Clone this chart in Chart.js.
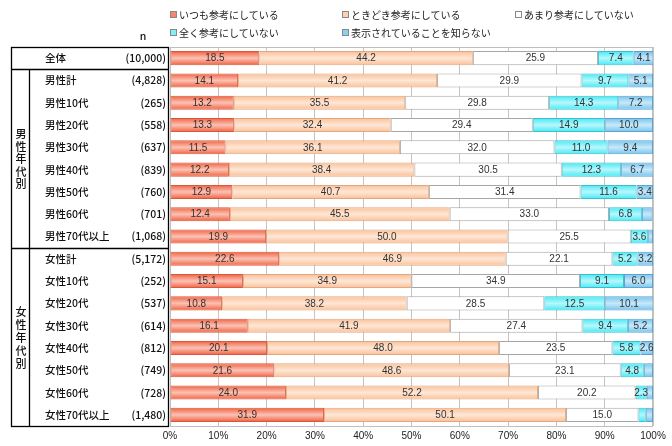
<!DOCTYPE html>
<html lang="ja">
<head>
<meta charset="utf-8">
<script src="https://cdn.jsdelivr.net/npm/chart.js@4.4.1/dist/chart.umd.min.js"></script>
<style>
    html, body { margin: 0; padding: 0; background: #fff; }
    #wrap { position: relative; width: 672px; height: 446px; }
    .legend { position: absolute; font-family: "Noto Sans CJK JP", sans-serif; font-size: 10px; color: #222; white-space: nowrap; line-height: 12px; }
    .legend i { display: inline-block; width: 5px; height: 5px; border: 1px solid #888; margin-right: 2px; vertical-align: 1px; }
</style>
</head>
<body>
<div id="wrap">
    <canvas id="chart"></canvas>
    <div class="legend" style="left:170px;top:9px"><i style="background:#f4876c"></i>いつも参考にしている</div>
    <div class="legend" style="left:342px;top:9px"><i style="background:#fcd2b2"></i>ときどき参考にしている</div>
    <div class="legend" style="left:515px;top:9px"><i style="background:#ffffff"></i>あまり参考にしていない</div>
    <div class="legend" style="left:170px;top:27px"><i style="background:#7ef0f8"></i>全く参考にしていない</div>
    <div class="legend" style="left:342px;top:27px"><i style="background:#8fd0f2"></i>表示されていることを知らない</div>
</div>
<script>
const categories = ['全体', '男性計', '男性10代', '男性20代', '男性30代', '男性40代', '男性50代', '男性60代', '男性70代以上',
    '女性計', '女性10代', '女性20代', '女性30代', '女性40代', '女性50代', '女性60代', '女性70代以上'];
const nLabels = ['(10,000)', '(4,828)', '(265)', '(558)', '(637)', '(839)', '(760)', '(701)', '(1,068)',
    '(5,172)', '(252)', '(537)', '(614)', '(812)', '(749)', '(728)', '(1,480)'];
const seriesNames = ['いつも参考にしている', 'ときどき参考にしている', 'あまり参考にしていない', '全く参考にしていない', '表示されていることを知らない'];
const always    = [18.5, 14.1, 13.2, 13.3, 11.5, 12.2, 12.9, 12.4, 19.9, 22.6, 15.1, 10.8, 16.1, 20.1, 21.6, 24.0, 31.9];
const sometimes = [44.2, 41.2, 35.5, 32.4, 36.1, 38.4, 40.7, 45.5, 50.0, 46.9, 34.9, 38.2, 41.9, 48.0, 48.6, 52.2, 50.1];
const rarely    = [25.9, 29.9, 29.8, 29.4, 32.0, 30.5, 31.4, 33.0, 25.5, 22.1, 34.9, 28.5, 27.4, 23.5, 23.1, 20.2, 15.0];
const never     = [7.4, 9.7, 14.3, 14.9, 11.0, 12.3, 11.6, 6.8, 3.6, 5.2, 9.1, 12.5, 9.4, 5.8, 4.8, 2.3, 1.5];
const unaware   = [4.1, 5.1, 7.2, 10.0, 9.4, 6.7, 3.4, 2.2, 1.0, 3.2, 6.0, 10.1, 5.2, 2.6, 1.9, 1.3, 1.5];
const xTicks = [0, 10, 20, 30, 40, 50, 60, 70, 80, 90, 100];
const groups = [{ label: '男性年代別', from: 1, to: 8, step: 12.5 }, { label: '女性年代別', from: 9, to: 16, step: 13 }];

const fills = ['#f2603e', '#fbc096', '#ffffff', '#44eaf6', '#72c4ee'];
const edges = ['#d9583c', '#e3a77f', '#a6a6a6', '#3bbfcc', '#5aa2d0'];
const JP = '"Noto Sans CJK JP", sans-serif';

// gloss stripe over each bar + value labels
const barDecor = {
    id: 'barDecor',
    afterDatasetsDraw(chart) {
        const c = chart.ctx;
        c.save();
        chart.data.datasets.forEach((ds, di) => {
            const meta = chart.getDatasetMeta(di);
            meta.data.forEach((el, i) => {
                const p = el.getProps(['x', 'y', 'base', 'height'], true);
                const left = Math.min(p.x, p.base), w = Math.abs(p.x - p.base);
                const top = p.y - p.height / 2;
                if (di !== 2) {
                    const g = c.createLinearGradient(0, top, 0, top + p.height);
                    g.addColorStop(0, 'rgba(255,255,255,0)');
                    g.addColorStop(0.5, 'rgba(255,255,255,0.62)');
                    g.addColorStop(1, 'rgba(255,255,255,0)');
                    c.fillStyle = g;
                    c.fillRect(left + 1, top + 1, w - 2, p.height - 2);
                }
                const v = ds.data[i];
                if (v >= 2.25) {
                    c.fillStyle = '#333';
                    c.font = '10px "Liberation Sans", sans-serif';
                    c.textAlign = 'center';
                    c.textBaseline = 'middle';
                    c.fillText(v.toFixed(1), left + w / 2, p.y + 0.5);
                }
            });
        });
        c.restore();
    }
};

// plot frame and left-hand table
const sideTable = {
    id: 'sideTable',
    beforeDatasetsDraw(chart) {
        const { ctx: c, chartArea: a } = chart;
        c.save();
        c.strokeStyle = '#bfbfbf';
        c.lineWidth = 1;
        c.strokeRect(a.left + 0.5, a.top + 0.5, a.right - a.left - 1, a.bottom - a.top);
        c.restore();
    },
    afterDraw(chart) {
        const { ctx: c, chartArea: a } = chart;
        const y = chart.scales.y;
        const bound = i => Math.round((y.getPixelForValue(i) + y.getPixelForValue(i + 1)) / 2) + 0.5;
        const L = 11.5, R = a.left - 1.5, D = 29.5, T = Math.round(a.top) + 0.5, B = Math.round(a.bottom) + 0.5;
        c.save();
        c.strokeStyle = '#000';
        c.lineWidth = 1.3;
        c.strokeRect(L, T, R - L, B - T);
        c.beginPath();
        c.moveTo(L, bound(0)); c.lineTo(R, bound(0));
        c.moveTo(L, bound(8)); c.lineTo(R, bound(8));
        c.moveTo(D, bound(0)); c.lineTo(D, B);
        c.stroke();

        c.fillStyle = '#111';
        c.textBaseline = 'middle';
        c.font = '500 10.5px ' + JP;
        categories.forEach((name, i) => {
            const py = y.getPixelForValue(i);
            c.textAlign = 'left';
            c.fillText(name, 45, py);
            c.textAlign = 'right';
            c.fillText(nLabels[i], 166, py);
        });
        c.textAlign = 'center';
        c.fillText('n', 143, 36);
        c.font = '500 11px ' + JP;
        groups.forEach(g => {
            const mid = (bound(g.from - 1) + bound(g.to)) / 2;
            const chars = g.label.split('');
            chars.forEach((ch, k) => c.fillText(ch, 21, mid + (k - (chars.length - 1) / 2) * g.step));
        });
        c.restore();
    }
};

new Chart(document.getElementById('chart'), {
    type: 'bar',
    data: {
        labels: categories,
        datasets: [always, sometimes, rarely, never, unaware].map((d, k) => ({
            label: seriesNames[k],
            data: d,
            backgroundColor: fills[k],
            borderColor: edges[k],
            borderWidth: 1,
            borderSkipped: false,
            categoryPercentage: 1,
            barPercentage: 0.63
        }))
    },
    options: {
        indexAxis: 'y',
        responsive: true,
        maintainAspectRatio: false,
        animation: false,
        layout: { padding: { left: 170, top: 47, right: 19, bottom: 0 } },
        plugins: { legend: { display: false }, tooltip: { enabled: false } },
        scales: {
            x: {
                stacked: true,
                min: 0,
                max: 100,
                afterBuildTicks: s => { s.ticks = xTicks.map(v => ({ value: v })); },
                ticks: {
                    callback: v => v + '%',
                    font: { family: '"Liberation Sans", sans-serif', size: 10 },
                    color: '#222',
                    padding: 4,
                    maxRotation: 0
                },
                grid: { color: '#c4c4c4', drawTicks: false },
                border: { display: false }
            },
            y: {
                stacked: true,
                display: false
            }
        }
    },
    plugins: [barDecor, sideTable]
});
</script>
</body>
</html>
